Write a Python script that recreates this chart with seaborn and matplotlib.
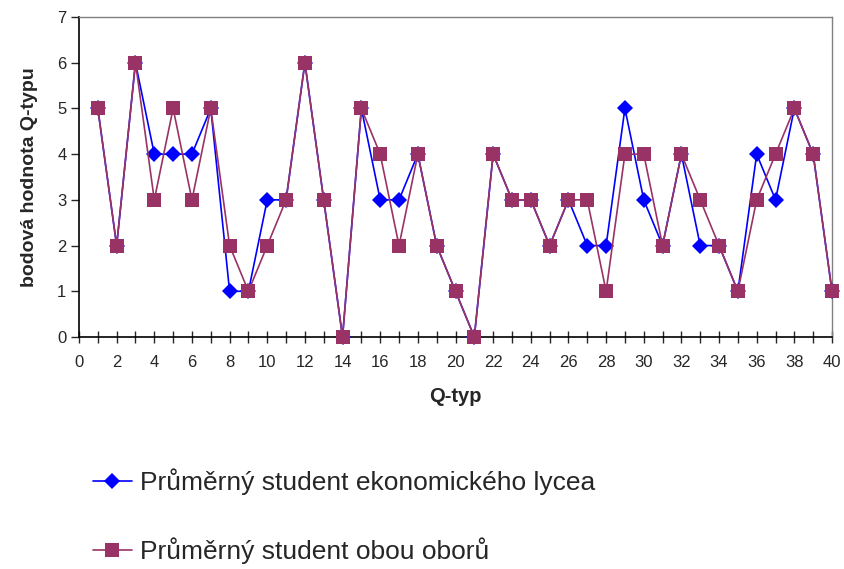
import numpy as np
import pandas as pd
import matplotlib
matplotlib.use("Agg")
import matplotlib.pyplot as plt
import seaborn as sns

# data
q_typ = list(range(1, 41))
lyceum = [5, 2, 6, 4, 4, 4, 5, 1, 1, 3, 3, 6, 3, 0, 5, 3, 3, 4, 2, 1,
          0, 4, 3, 3, 2, 3, 2, 2, 5, 3, 2, 4, 2, 2, 1, 4, 3, 5, 4, 1]
oba_obory = [5, 2, 6, 3, 5, 3, 5, 2, 1, 2, 3, 6, 3, 0, 5, 4, 2, 4, 2, 1,
             0, 4, 3, 3, 2, 3, 3, 1, 4, 4, 2, 4, 3, 2, 1, 3, 4, 5, 4, 1]
labels = ["Průměrný student ekonomického lycea", "Průměrný student obou oborů"]
x_ticks = list(range(0, 41, 2))
y_ticks = list(range(0, 8))

df = pd.DataFrame({"Q": q_typ, "lyceum": lyceum, "oba": oba_obory})

sns.set_style("white")
plt.rcParams['font.family'] = ['Liberation Sans', 'DejaVu Sans']

fig = plt.figure(figsize=(8.45, 5.69), dpi=100)
ax = fig.add_axes([79/845, 1 - 337/569, (832-79)/845, (337-17)/569])

sns.lineplot(data=df, x="Q", y="lyceum", ax=ax, color="#0000FF", lw=1.2,
             marker="D", markersize=8, markeredgewidth=0, label=labels[0],
             clip_on=False, zorder=3)
sns.lineplot(data=df, x="Q", y="oba", ax=ax, color="#993366", lw=1.2,
             marker="s", markersize=10, markeredgewidth=0, label=labels[1],
             clip_on=False, zorder=4)

ax.set_xlim(0, 40)
ax.set_ylim(0, 7)
ax.set_xticks(x_ticks)
ax.set_xticks(range(0, 41), minor=True)
ax.set_yticks(y_ticks)
ax.tick_params(axis="x", which="both", direction="inout", length=8, width=1,
               bottom=True, labelsize=12, pad=9)
ax.tick_params(axis="y", direction="out", length=6, width=1, left=True,
               labelsize=12, pad=3)

for s in ["left", "bottom"]:
    ax.spines[s].set_color("black")
    ax.spines[s].set_linewidth(1.2)
for s in ["top", "right"]:
    ax.spines[s].set_color("#808080")
    ax.spines[s].set_linewidth(1)

ax.set_xlabel("Q-typ", fontsize=14.5, fontweight="bold", labelpad=12)
ax.set_ylabel("bodová hodnota Q-typu", fontsize=14, fontweight="bold", labelpad=14)

ax.legend(loc="upper left", bbox_to_anchor=(82/845, 1 - 458/569),
          bbox_transform=fig.transFigure, frameon=False, fontsize=19,
          handlelength=1.5, handletextpad=0.3, labelspacing=1.6,
          borderaxespad=0)

fig.savefig("out.png", dpi=100)
